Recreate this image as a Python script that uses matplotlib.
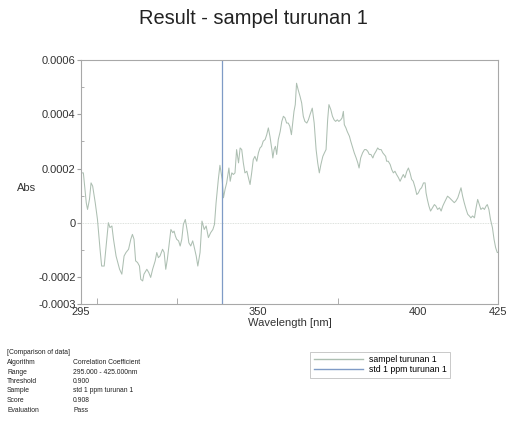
import numpy as np
import matplotlib
matplotlib.use('Agg')
from matplotlib import pyplot as plt
from matplotlib.lines import Line2D

plt.rcParams['font.family'] = ['Liberation Sans', 'DejaVu Sans']

wavelength = [
    295.2, 295.7, 296.6, 297.0, 297.6, 298.1, 298.6, 299.4, 300.1, 300.9,
    301.4, 302.2, 302.8, 303.5, 304.0, 304.6, 305.1, 305.9, 307.0, 307.7,
    308.4, 309.0, 309.8, 310.5, 311.0, 311.5, 312.0, 312.6, 313.2, 313.6,
    314.2, 314.6, 315.5, 316.1, 316.7, 317.3, 318.1, 318.6, 319.1, 319.6,
    320.4, 320.9, 321.4, 321.9, 322.5, 323.0, 323.6, 324.0, 324.4, 324.8,
    325.4, 325.9, 326.4, 326.9, 327.5, 328.2, 328.6, 329.2, 329.8, 330.2,
    330.9, 331.4, 332.1, 332.7, 333.4, 334.0, 334.7, 335.4, 336.1, 336.6,
    337.1, 337.8, 338.3, 339.0, 339.4, 339.9, 340.4, 341.1, 341.5, 342.0,
    342.5, 343.0, 343.5, 344.1, 344.6, 345.1, 345.6, 346.1, 346.7, 347.2,
    347.7, 348.2, 348.7, 349.2, 349.8, 350.3, 350.8, 351.3, 351.8, 352.4,
    352.9, 353.4, 353.9, 354.5, 354.8, 355.2, 355.6, 356.0, 356.5, 357.1,
    357.6, 358.1, 358.6, 359.1, 359.6, 360.1, 360.6, 360.9, 361.4, 361.8,
    362.2, 362.7, 363.3, 363.8, 364.3, 364.8, 365.4, 365.9, 366.4, 367.1,
    367.7, 368.3, 368.8, 369.3, 369.8, 370.4, 370.9, 371.4, 371.9, 372.3,
    372.9, 373.4, 373.9, 374.4, 374.9, 375.4, 376.0, 376.4, 376.8, 377.1,
    377.6, 378.0, 378.7, 379.1, 379.6, 380.2, 380.8, 381.3, 381.7, 382.2,
    382.8, 383.4, 383.9, 384.4, 384.9, 385.4, 386.0, 386.4, 387.0, 387.5,
    388.0, 388.6, 389.1, 389.5, 390.0, 390.3, 390.8, 391.4, 391.9, 392.4,
    392.9, 393.4, 394.0, 394.5, 395.0, 395.5, 396.0, 396.6, 397.1, 397.6,
    398.1, 398.6, 399.2, 399.7, 400.2, 400.7, 401.2, 401.8, 402.3, 402.6,
    403.0, 403.5, 404.0, 404.6, 405.2, 405.7, 406.2, 406.8, 407.3, 407.8,
    408.3, 408.8, 409.3, 409.9, 410.4, 410.9, 411.4, 411.9, 412.5, 413.0,
    413.5, 414.0, 414.5, 415.1, 415.6, 416.1, 416.6, 417.1, 417.7, 418.2,
    418.7, 419.2, 419.7, 420.3, 420.8, 421.3, 421.7, 422.2, 422.7, 423.3,
    423.8, 424.3, 424.8, 425.0,
]
absorbance_e4 = [
    1.84, 1.84, 0.74, 0.49, 0.86, 1.47, 1.35, 0.74, 0.12, -0.98,
    -1.60, -1.60, -0.86, 0.00, -0.18, -0.12, -0.61, -1.23, -1.72, -1.90,
    -1.23, -1.10, -0.98, -0.61, -0.43, -0.61, -1.41, -1.47, -1.60, -2.09,
    -2.15, -1.90, -1.72, -1.84, -2.02, -1.72, -1.41, -1.10, -1.29, -1.23,
    -0.98, -1.10, -1.72, -1.35, -0.74, -0.25, -0.37, -0.31, -0.49, -0.61,
    -0.67, -0.86, -0.61, -0.06, 0.12, -0.37, -0.74, -0.86, -0.67, -0.86,
    -1.23, -1.60, -1.10, 0.06, -0.25, -0.12, -0.55, -0.37, -0.25, -0.06,
    0.74, 1.60, 2.12, 1.60, 0.92, 1.23, 1.47, 2.02, 1.53, 1.84,
    1.78, 1.84, 2.70, 2.21, 2.76, 2.70, 2.21, 1.84, 1.90, 1.66,
    1.41, 1.84, 2.33, 2.45, 2.27, 2.58, 2.76, 2.82, 3.01, 3.07,
    3.25, 3.50, 3.19, 2.70, 2.39, 2.70, 2.82, 2.52, 3.07, 3.37,
    3.74, 3.93, 3.87, 3.68, 3.68, 3.56, 3.25, 3.56, 4.11, 4.36,
    5.15, 4.91, 4.66, 4.42, 3.93, 3.74, 3.68, 3.80, 3.99, 4.23,
    3.68, 2.70, 2.21, 1.84, 2.15, 2.45, 2.58, 2.70, 3.80, 4.36,
    4.17, 3.93, 3.80, 3.74, 3.80, 3.74, 3.80, 3.87, 4.11, 3.62,
    3.50, 3.37, 3.19, 3.01, 2.82, 2.58, 2.39, 2.21, 2.02, 2.39,
    2.58, 2.70, 2.70, 2.64, 2.52, 2.52, 2.39, 2.52, 2.64, 2.76,
    2.70, 2.70, 2.58, 2.52, 2.45, 2.27, 2.27, 2.15, 1.96, 1.84,
    1.90, 1.78, 1.66, 1.53, 1.66, 1.78, 1.66, 1.90, 2.02, 1.84,
    1.60, 1.53, 1.29, 1.04, 1.10, 1.23, 1.29, 1.47, 1.47, 1.10,
    0.86, 0.61, 0.43, 0.55, 0.67, 0.61, 0.49, 0.55, 0.43, 0.61,
    0.74, 0.86, 0.98, 0.92, 0.86, 0.80, 0.74, 0.80, 0.92, 1.10,
    1.29, 0.98, 0.74, 0.49, 0.31, 0.25, 0.18, 0.25, 0.18, 0.55,
    0.86, 0.67, 0.49, 0.55, 0.49, 0.61, 0.67, 0.49, 0.12, -0.18,
    -0.61, -0.92, -1.10, -1.10,
]
cursor_nm = 338.8

series_names = ['sampel turunan 1', 'std 1 ppm turunan 1']
series_colors = ['#adbfb2', '#7f9bc6']

x_labels = ['295', '350', '400', '425']
y_ticks = [0.0006, 0.0004, 0.0002, 0, -0.0002, -0.0003]
y_labels = ['0.0006', '0.0004', '0.0002', '0', '-0.0002', '-0.0003']

info_keys = ['Algorithm', 'Range', 'Threshold', 'Sample', 'Score', 'Evaluation']
info_vals = ['Correlation Coefficient', '295.000 - 425.000nm', '0.900',
             'std 1 ppm turunan 1', '0.908', 'Pass']

absorbance = np.array(absorbance_e4) * 1e-4

fig = plt.figure(figsize=(5.07, 4.21), dpi=100)
ax = fig.add_axes([0.160, 0.278, 0.822, 0.579])

ax.axhline(0, color='#d2d8d2', lw=0.6, ls=(0, (1, 1)))
ax.plot(wavelength, absorbance, color=series_colors[0], lw=0.75)
ax.axvline(cursor_nm, color=series_colors[1], lw=0.9)

ax.set_xlim(295, 425)
ax.set_ylim(-0.0003, 0.0006)

text_col = '#333333'
ax.set_xticks([float(v) for v in x_labels])
ax.set_xticklabels(x_labels)
ax.set_xticks([300, 325, 350, 375, 400], minor=True)
ax.tick_params(axis='x', which='major', length=0, pad=2, labelsize=8, labelcolor=text_col)
ax.tick_params(axis='x', which='minor', direction='in', length=4, color='#a0a0a0')

ax.set_yticks(y_ticks)
ax.set_yticklabels(y_labels)
ax.set_yticks([0.0005, 0.0003, 0.0001, -0.0001], minor=True)
ax.tick_params(axis='y', which='major', direction='out', length=3, color='#a0a0a0',
               pad=1, labelsize=8, labelcolor=text_col)
ax.tick_params(axis='y', which='minor', direction='in', length=2, color='#a0a0a0')

for sp in ax.spines.values():
    sp.set_color('#a8a8a8')
    sp.set_linewidth(0.8)

ax.set_xlabel('Wavelength [nm]', fontsize=8, color=text_col, labelpad=1)
fig.text(27 / 507, 1 - 188 / 421, 'Abs', fontsize=8, color=text_col,
         ha='center', va='center')

fig.text(0.5, 1 - 19 / 421, 'Result - sampel turunan 1', fontsize=14.4,
         color='#222222', ha='center', va='center')

# comparison info block
info_size = 4.9
fig.text(7 / 507, 1 - 353 / 421, '[Comparison of data]', fontsize=info_size,
         color='#222222', va='center')
for i, (k, v) in enumerate(zip(info_keys, info_vals)):
    yy = 1 - (362.5 + i * 9.5) / 421
    fig.text(7 / 507, yy, k, fontsize=info_size, color='#222222', va='center')
    fig.text(73 / 507, yy, v, fontsize=info_size, color='#222222', va='center')

handles = [Line2D([], [], color=c, lw=1.0) for c in series_colors]
leg = fig.legend(handles, series_names, loc='upper left',
                 bbox_to_anchor=(310 / 507, 1 - 352 / 421), fontsize=6.3,
                 frameon=True, fancybox=False, handlelength=5.7, handletextpad=0.6,
                 borderpad=0.4, labelspacing=0.1, borderaxespad=0)
leg.get_frame().set_edgecolor('#b0b0b0')
leg.get_frame().set_linewidth(0.6)

fig.savefig('out.png', dpi=100)
